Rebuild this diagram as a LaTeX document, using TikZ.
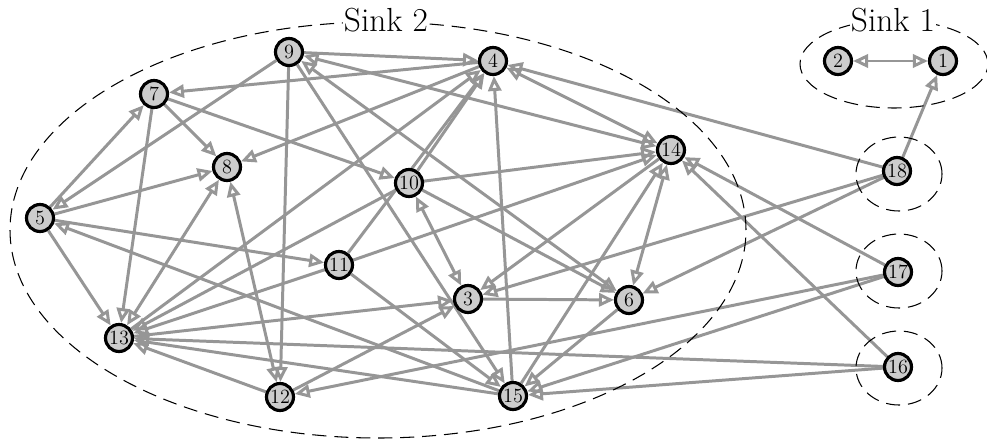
\documentclass[tikz,border=0pt]{standalone}
\usetikzlibrary{arrows.meta,backgrounds}
\definecolor{edgegray}{RGB}{150,150,150}
\definecolor{nodegray}{RGB}{204,204,204}
\tikzset{
  vertex/.style={draw, circle, line width=1.8pt, fill=nodegray, minimum size=0.54cm, inner sep=0pt, font=\fontsize{11.5}{11.5}\selectfont},
  arc/.style={draw=edgegray, line width=1.7pt, -{Triangle[open, length=8.5pt, width=7.5pt]}},
  twoway/.style={arc, {Triangle[open, length=8.5pt, width=7.5pt]}-{Triangle[open, length=8.5pt, width=7.5pt]}},
  sinkline/.style={draw, line width=0.6pt, dash pattern=on 8pt off 4.5pt},
  sinklabel/.style={fill=white, inner sep=0.5pt, font=\fontsize{19}{19}\selectfont}
}
\begin{document}
\begin{tikzpicture}
      \useasboundingbox (0,0) rectangle (19.74,-8.8);

      % Componentes (sinks)
      \draw[sinkline] (7.56,-4.60) ellipse [x radius=7.36cm, y radius=4.16cm];
      \draw[sinkline] (17.88,-1.28) ellipse [x radius=1.88cm, y radius=0.88cm];
      \draw[sinkline] (17.98,-3.48) ellipse [x radius=0.86cm, y radius=0.74cm];
      \draw[sinkline] (17.98,-5.42) ellipse [x radius=0.86cm, y radius=0.74cm];
      \draw[sinkline] (17.98,-7.36) ellipse [x radius=0.86cm, y radius=0.74cm];
      \node[sinklabel] (sink2) at (7.72,-0.40) {Sink 2};
      \node[sinklabel] (sink1) at (17.86,-0.40) {Sink 1};

      % Vertices
      \node[vertex] (1) at (18.86,-1.22) {1};
      \node[vertex] (2) at (16.76,-1.22) {2};
      \node[vertex] (3) at (9.36,-5.98) {3};
      \node[vertex] (4) at (9.86,-1.22) {4};
      \node[vertex] (5) at (0.80,-4.36) {5};
      \node[vertex] (6) at (12.58,-6.00) {6};
      \node[vertex] (7) at (3.08,-1.88) {7};
      \node[vertex] (8) at (4.54,-3.34) {8};
      \node[vertex] (9) at (5.78,-1.04) {9};
      \node[vertex] (10) at (8.18,-3.66) {10};
      \node[vertex] (11) at (6.78,-5.30) {11};
      \node[vertex] (12) at (5.60,-7.94) {12};
      \node[vertex] (13) at (2.38,-6.76) {13};
      \node[vertex] (14) at (13.42,-3.00) {14};
      \node[vertex] (15) at (10.26,-7.92) {15};
      \node[vertex] (16) at (17.96,-7.34) {16};
      \node[vertex] (17) at (17.96,-5.44) {17};
      \node[vertex] (18) at (17.94,-3.42) {18};

      \begin{pgfonlayer}{background}
      % Arcos nos dois sentidos
      \draw[twoway] (2) -- (1);
      \draw[twoway] (4) -- (14);
      \draw[twoway] (9) -- (14);
      \draw[twoway] (8) -- (12);
      \draw[twoway] (8) -- (13);
      \draw[twoway] (10) -- (3);
      \draw[twoway] (6) -- (14);
      \draw[twoway] (6) -- (9);

      % Arcos saindo dos vertices isolados
      \draw[arc] (18) -- (1);
      \draw[arc] (18) -- (4);
      \draw[arc] (18) -- (3);
      \draw[arc] (18) -- (6);
      \draw[arc] (17) -- (14);
      \draw[arc] (17) -- (12);
      \draw[arc] (17) -- (15);
      \draw[arc] (16) -- (14);
      \draw[arc] (16) -- (15);
      \draw[arc] (16) -- (13);

      % Arcos dentro do Sink 2
      \draw[arc] (9) -- (4);
      \draw[arc] (9) -- (5);
      \draw[arc] (9) -- (12);
      \draw[arc] (9) -- (15);
      \draw[arc] (4) -- (7);
      \draw[arc] (4) -- (8);
      \draw[arc] (5) -- (7);
      \draw[arc] (5) -- (8);
      \draw[arc] (5) -- (11);
      \draw[arc] (5) -- (13);
      \draw[arc] (7) -- (8);
      \draw[arc] (7) -- (10);
      \draw[arc] (7) -- (13);
      \draw[arc] (10) -- (4);
      \draw[arc] (10) -- (13);
      \draw[arc] (10) -- (14);
      \draw[arc] (10) -- (6);
      \draw[arc] (11) -- (4);
      \draw[arc] (11) -- (13);
      \draw[arc] (11) -- (14);
      \draw[arc] (11) -- (15);
      \draw[arc] (13) -- (4);
      \draw[arc] (13) -- (3);
      \draw[arc] (12) -- (3);
      \draw[arc] (12) -- (13);
      \draw[arc] (3) -- (6);
      \draw[arc] (14) -- (3);
      \draw[arc] (15) -- (5);
      \draw[arc] (15) -- (4);
      \draw[arc] (15) -- (13);
      \draw[arc] (15) -- (14);
      \draw[arc] (6) -- (15);
      \end{pgfonlayer}
    \end{tikzpicture}
\end{document}
